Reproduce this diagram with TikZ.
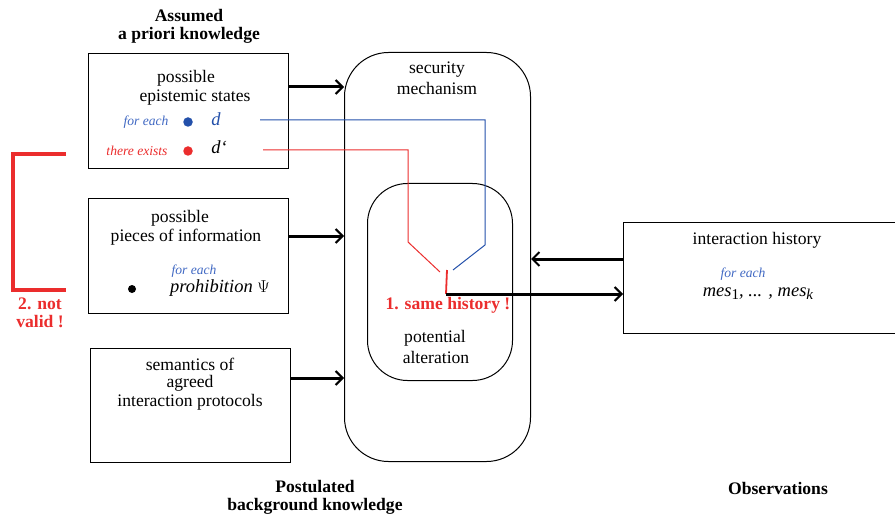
\documentclass[tikz,border=0pt]{standalone}
\usepackage{fontspec}
\setmainfont{Liberation Serif}
\usetikzlibrary{arrows.meta}
\definecolor{lineblue}{RGB}{35,80,170}
\definecolor{textblue}{RGB}{65,105,195}
\definecolor{alertred}{RGB}{235,45,45}
\newcommand{\lowidx}[1]{\raisebox{-0.3ex}{\fontsize{15}{16}\upshape\selectfont #1}}
\begin{document}
\begin{tikzpicture}[x=1pt,y=-1pt,
  every node/.style={font=\fontsize{17.6}{20}\selectfont, inner sep=0pt},
  box/.style={draw, line width=1.1pt, anchor=north west},
  roundbox/.style={draw, line width=1pt, rounded corners=44pt, anchor=north west},
  arr/.style={line width=3pt, -{Straight Barb[length=7pt,width=14pt,line width=2pt]}},
  note/.style={font=\fontsize{13.6}{16}\itshape\selectfont},
  title/.style={font=\fontsize{17.6}{18}\bfseries\selectfont, align=center},
  alert/.style={font=\fontsize{17.6}{18}\bfseries\selectfont, text=alertred},
  var/.style={font=\fontsize{18.5}{20}\itshape\selectfont},
  dot/.style={circle, minimum size=9.5pt}]
\useasboundingbox (0,0) rectangle (895,516);

% boxes
\node[box, minimum width=200pt, minimum height=115pt] (states) at (88,53) {};
\node[box, minimum width=200pt, minimum height=115pt] (info) at (88,198) {};
\node[box, minimum width=200pt, minimum height=114pt] (proto) at (90,348) {};
\node[roundbox, minimum width=186pt, minimum height=409pt] (mech) at (344,52) {};
\node[roundbox, rounded corners=40pt, minimum width=145pt, minimum height=197pt] (alter) at (367,183) {};
\node[box, minimum width=272pt, minimum height=111pt] (hist) at (623,222) {};

% titles
\node[title] (t1) at (189,26) {Assumed\\a priori knowledge};
\node[title] (t2) at (315,497) {Postulated\\background knowledge};
\node[title] (t3) at (778,488) {Observations};

% epistemic states box
\node (s1) at (186,78) {possible};
\node (s2) at (195,98) {epistemic states};
\node[note, text=textblue] (fe1) at (146,122) {for each};
\node[dot, fill=lineblue] (bd) at (188,122) {};
\node[var, text=lineblue] (d) at (216,119) {d};
\node[note, text=alertred] (te) at (137,151) {there exists};
\node[dot, fill=alertred] (rd) at (188,151) {};
\node[var] (d2) at (219,147) {d‘};

% pieces of information box
\node (i1) at (180,218) {possible};
\node (i2) at (186,237) {pieces of information};
\node[note, text=textblue] (fe2) at (194,271) {for each};
\node[dot, fill, minimum size=8pt] (kd) at (132,289) {};
\node[var] (psi) at (220,288) {prohibition \textup{$\Psi$}};

% protocols box
\node (p1) at (190,364) {semantics of};
\node (p2) at (190,383) {agreed};
\node (p3) at (190,402) {interaction protocols};

% mechanism
\node (m1) at (437,70) {security};
\node (m2) at (437,88) {mechanism};
\node (a1) at (435,338) {potential};
\node (a2) at (436,357) {alteration};

% interaction history
\node (h1) at (757,240) {interaction history};
\node[note, text=textblue] (fe3) at (743,274) {for each};
\node[var] (mes) at (758,294) {mes\lowidx{1}, ... , mes\lowidx{\itshape k}};

% flows into the mechanism
\draw[arr] (states.east |- 0,87) -- (mech.west |- 0,87);
\draw[arr] (info.east |- 0,236) -- (mech.west |- 0,236);
\draw[arr] (proto.east |- 0,378) -- (mech.west |- 0,378);
\draw[arr] (hist.west |- 0,259) -- (mech.east |- 0,259);

% the two histories coincide
\coordinate (bs) at (260,120);
\coordinate (bt) at (453,270);
\coordinate (rs) at (263,150);
\coordinate (rt) at (440,272);
\draw[lineblue, line width=1pt] (bs) -- (485,120) -- (485,245) -- (bt);
\draw[alertred, line width=1pt] (rs) -- (408,150) -- (408,242) -- (rt);
\coordinate (jt) at (447,270);
\coordinate (jb) at (446,294);
\draw[alertred, line width=1.8pt] (jt) -- (jb);
\draw[arr] (jb) -- (hist.west |- 0,294);
\node[alert] (same) at (448,305) {1. same history !};

% not valid bracket
\coordinate (k1) at (66,154);
\coordinate (k2) at (66,290);
\draw[alertred, line width=4pt] (k1) -- (13,154) -- (13,290) -- (k2);
\node[alert, align=center] (nv) at (40,313) {2. not\\valid !};
\end{tikzpicture}
\end{document}
